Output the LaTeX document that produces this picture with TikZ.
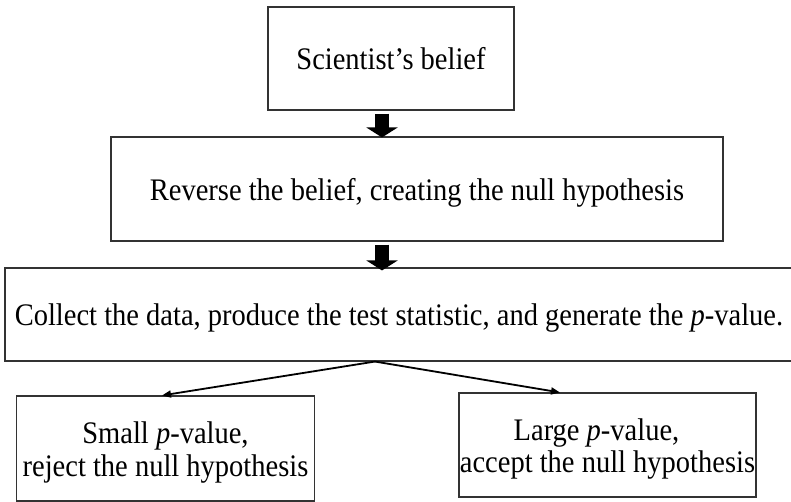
\documentclass[tikz,border=0pt]{standalone}
\usepackage{fontspec}
\setmainfont{Liberation Serif}
\usetikzlibrary{arrows.meta}
\newcommand{\stretchtext}[1]{\raisebox{-5bp}[\height][\depth]{\scalebox{1}[1.1]{\begin{tabular}{@{}c@{}}#1\end{tabular}}}}
\begin{document}
\begin{tikzpicture}[x=1bp,y=-1bp,
  box/.style={draw=black!80, line width=1.1bp, rectangle, inner sep=0pt, align=center,
    font=\fontsize{28.5bp}{29.5bp}\selectfont},
  blockarrow/.style={line width=14bp, -{Triangle[width=31bp,length=10bp]}},
  thinarrow/.style={line width=1.8bp, -{Triangle[width=7bp,length=9bp]}}]
\useasboundingbox (0,0) rectangle (791,502);
\fill[white] (0,0) rectangle (791,502);
\node[box, minimum width=246bp, minimum height=103bp] (b1) at (391,58.5) {\stretchtext{Scientist’s belief}};
\node[box, minimum width=612bp, minimum height=104bp] (b2) at (417,189) {\stretchtext{Reverse the belief, creating the null hypothesis}};
\node[box, minimum width=788bp, minimum height=93bp] (b3) at (399,314.5) {\stretchtext{Collect the data, produce the test statistic, and generate the \textit{p}-value.}};
\node[box, minimum width=298bp, minimum height=105bp] (b4) at (165.5,448.5) {\stretchtext{Small \textit{p}-value,\\reject the null hypothesis}};
\node[box, minimum width=297bp, minimum height=104bp] (b5) at (607.5,445) {\stretchtext{Large \textit{p}-value,\hspace*{22bp}\\accept the null hypothesis}};
\coordinate (ax) at (382,0);
\draw[blockarrow] ([yshift=-3bp]b1.south -| ax) -- ([yshift=-1bp]b2.north -| ax);
\draw[blockarrow] ([yshift=-3bp]b2.south -| ax) -- ([yshift=-3bp]b3.north -| ax);
\coordinate (s) at (375,0);
\draw[thinarrow] (b3.south -| s) -- ([xshift=-3.5bp]b4.north);
\draw[thinarrow] (b3.south -| s) -- ([xshift=-47.5bp]b5.north);
\end{tikzpicture}
\end{document}
